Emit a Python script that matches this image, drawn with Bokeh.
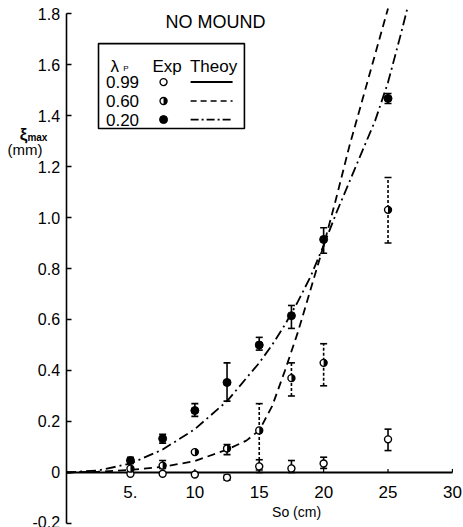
import numpy as np
from bokeh.plotting import figure
from bokeh.models import FixedTicker, LinearAxis
from bokeh.core.properties import value
from bokeh.embed import file_html
from bokeh.resources import INLINE

FONT = "Liberation Sans"

# ---- data: maximum displacement xi_max (mm) against s0 (cm), no mound ----
s0 = [5, 7.5, 10, 12.5, 15, 17.5, 20, 25]

# lambda_p = 0.99 (open circles)
exp_099 = [-0.005, -0.005, -0.008, -0.02, 0.024, 0.016, 0.035, 0.13]
exp_099_lo = [-0.005, -0.005, -0.008, -0.03, 0.0, 0.0, 0.016, 0.086]
exp_099_hi = [-0.005, -0.005, -0.008, -0.01, 0.05, 0.047, 0.06, 0.17]

# lambda_p = 0.60 (half-filled circles)
exp_060 = [0.015, 0.027, 0.08, 0.094, 0.165, 0.37, 0.43, 1.03]
exp_060_lo = [0.015, 0.016, 0.08, 0.07, 0.01, 0.30, 0.34, 0.90]
exp_060_hi = [0.015, 0.047, 0.08, 0.11, 0.27, 0.43, 0.505, 1.157]

# lambda_p = 0.20 (filled circles)
exp_020 = [0.047, 0.133, 0.243, 0.353, 0.50, 0.615, 0.914, 1.467]
exp_020_lo = [0.035, 0.115, 0.22, 0.28, 0.48, 0.565, 0.86, 1.447]
exp_020_hi = [0.06, 0.15, 0.27, 0.43, 0.53, 0.655, 0.96, 1.486]

# theory curves
th_099_x = [0, 30]
th_099_y = [0.0, 0.0]

th_060_x = [0, 2.5, 5, 7.5, 10, 12.5, 14, 15, 16, 17, 18, 19, 20, 21, 22, 23, 24, 25]
th_060_y = [0, 0.003, 0.01, 0.022, 0.045, 0.09, 0.125, 0.165, 0.26, 0.40, 0.55,
            0.72, 0.89, 1.08, 1.28, 1.46, 1.64, 1.82]

th_020_x = [0, 2.5, 5, 7.5, 10, 12.5, 13.5, 15, 16, 17, 18, 19, 20, 21, 22, 23,
            24, 25, 26, 26.5]
th_020_y = [0, 0.008, 0.035, 0.09, 0.17, 0.28, 0.34, 0.43, 0.50, 0.58, 0.67, 0.77,
            0.89, 1.02, 1.14, 1.26, 1.38, 1.53, 1.72, 1.82]

x_ticks = [5, 10, 15, 20, 25, 30]
x_tick_labels = ["5.", "10", "15", "20", "25", "30"]
y_ticks = [-0.2, 0, 0.2, 0.4, 0.6, 0.8, 1.0, 1.2, 1.4, 1.6, 1.8]
y_tick_labels = ["-0.2", "0", "0.2", "0.4", "0.6", "0.8", "1.0", "1.2", "1.4", "1.6", "1.8"]

legend_lambda = ["0.99", "0.60", "0.20"]

DASH = "8 5"
DASHDOT = "10 4 2 4"

# the frame spans the whole canvas; the y axis sits at s0 = 0
p = figure(width=463, height=527, x_range=(-5.09, 30.86), y_range=(-0.2157, 1.851),
           output_backend="svg", toolbar_location=None, x_axis_location=None,
           y_axis_location=None, min_border=0)
p.grid.visible = False
p.outline_line_color = None
p.background_fill_color = "white"

ax = LinearAxis(fixed_location=0, bounds=(-0.2, 1.8))
ax.ticker = FixedTicker(ticks=y_ticks)
ax.major_label_overrides = {t: l for t, l in zip(y_ticks, y_tick_labels)}
ax.major_tick_in = 5
ax.major_tick_out = 0
ax.minor_tick_line_color = None
ax.axis_line_width = 1.6
ax.major_tick_line_width = 1.4
ax.major_label_standoff = 6
ax.major_label_text_font = FONT
ax.major_label_text_font_size = "16px"
ax.major_label_text_color = "black"
p.add_layout(ax, "left")

# theory curves
p.line(th_099_x, th_099_y, line_color="black", line_width=2)
p.line(th_060_x, th_060_y, line_color="black", line_width=1.8, line_dash=DASH)
p.line(th_020_x, th_020_y, line_color="black", line_width=1.8, line_dash=DASHDOT)

# small ticks along the zero line
p.segment(x0=x_ticks, y0=[0] * len(x_ticks), x1=x_ticks, y1=[0.014] * len(x_ticks),
          line_color="black", line_width=1.2)
p.text(x=x_ticks, y=[-0.075] * len(x_ticks), text=x_tick_labels,
       text_font=value(FONT), text_font_size="17px", text_align="center",
       text_baseline="middle", text_color="black")
p.text(x=[17.9], y=[-0.153], text=["So (cm)"], text_font=value(FONT),
       text_font_size="14px", text_align="center", text_baseline="middle")


def error_bars(xs, lo, hi, dash):
    keep = [i for i in range(len(xs)) if hi[i] - lo[i] > 1e-6]
    bx = [xs[i] for i in keep]
    blo = [lo[i] for i in keep]
    bhi = [hi[i] for i in keep]
    p.segment(x0=bx, y0=blo, x1=bx, y1=bhi, line_color="black", line_width=1.6,
              line_dash=dash)
    p.scatter(bx + bx, blo + bhi, marker="dash", size=7, line_color="black",
              line_width=1.6)


error_bars(s0, exp_099_lo, exp_099_hi, "solid")
error_bars(s0, exp_060_lo, exp_060_hi, "3 2")
error_bars(s0, exp_020_lo, exp_020_hi, "solid")

# markers
p.scatter(s0, exp_099, size=7, marker="circle", fill_color="white",
          line_color="black", line_width=1.4)
p.scatter(s0, exp_060, size=7, marker="circle", fill_color="white",
          line_color="black", line_width=1.4)
p.wedge(x=s0, y=exp_060, radius=3.5, radius_units="screen",
        start_angle=-np.pi / 2, end_angle=np.pi / 2, fill_color="black",
        line_color=None)
p.scatter(s0, exp_020, size=8, marker="circle", fill_color="black",
          line_color="black")

# title
p.text(x=[11.6], y=[1.765], text=["NO MOUND"], text_font=value(FONT),
       text_font_size="18px", text_align="center", text_baseline="middle")

# legend table
p.quad(left=[2.52], right=[13.85], bottom=[1.349], top=[1.682], fill_color=None,
       line_color="black", line_width=1.6)
p.text(x=[3.45], y=[1.592], text=["λ"], text_font=value(FONT), text_font_size="17px",
       text_align="left", text_baseline="middle")
p.text(x=[4.45], y=[1.583], text=["P"], text_font=value(FONT), text_font_size="8px",
       text_align="left", text_baseline="middle")
p.text(x=[7.85, 11.45], y=[1.592, 1.592], text=["Exp", "Theoy"], text_font=value(FONT),
       text_font_size="17px", text_align="center", text_baseline="middle")
row_y = [1.531, 1.457, 1.384]
p.text(x=[3.1] * 3, y=row_y, text=legend_lambda, text_font=value(FONT),
       text_font_size="17px", text_align="left", text_baseline="middle")
mx = 7.57
p.scatter([mx], [row_y[0]], size=7, fill_color="white", line_color="black", line_width=1.4)
p.scatter([mx], [row_y[1]], size=7, fill_color="white", line_color="black", line_width=1.4)
p.wedge(x=[mx], y=[row_y[1]], radius=3.5, radius_units="screen",
        start_angle=-np.pi / 2, end_angle=np.pi / 2, fill_color="black", line_color=None)
p.scatter([mx], [row_y[2]], size=8, fill_color="black", line_color="black")
p.line([9.67, 12.93], [row_y[0]] * 2, line_color="black", line_width=2)
p.line([9.67, 12.93], [row_y[1]] * 2, line_color="black", line_width=1.6, line_dash="6 4")
p.line([9.67, 12.93], [row_y[2]] * 2, line_color="black", line_width=1.6, line_dash="8 3 2 3")

# y-axis label: xi_max (mm)
p.text(x=[-3.6], y=[1.325], text=["ξ"], text_font=value(FONT), text_font_size="17px",
       text_font_style="bold", text_align="left", text_baseline="middle")
p.text(x=[-3.0], y=[1.312], text=["max"], text_font=value(FONT), text_font_size="10px",
       text_font_style="bold", text_align="left", text_baseline="middle")
p.text(x=[-4.55], y=[1.265], text=["(mm)"], text_font=value(FONT), text_font_size="15px",
       text_align="left", text_baseline="middle")

open("out.html", "w").write(file_html(p, INLINE))
